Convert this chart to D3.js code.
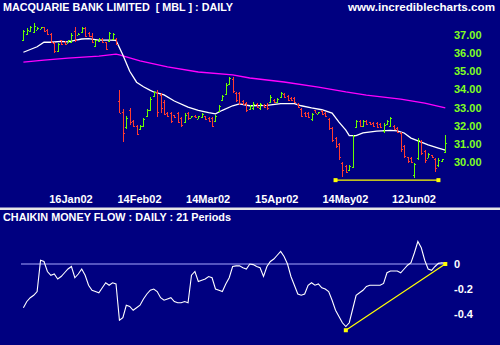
<!DOCTYPE html>
<html>
<head>
<meta charset="utf-8">
<script src="https://cdn.jsdelivr.net/npm/d3@7"></script>
<style>
  html, body { margin: 0; padding: 0; background: #000080; }
  svg { display: block; }
  text { font-family: "Liberation Sans", Arial, sans-serif; font-weight: bold; white-space: pre; }
</style>
</head>
<body>
<div id="chart"></div>
<script>
// ASX trading days, Dec 2001 - Jun 2002
var firstDay = "2001-12-24";
var barCount = 124;
var holidays = ["2001-12-25", "2001-12-26", "2002-01-01", "2002-01-28",
                "2002-03-29", "2002-04-01", "2002-04-25", "2002-06-10"];
var dateTicks = ["2002-01-16", "2002-02-14", "2002-03-14", "2002-04-15", "2002-05-14", "2002-06-12"];
var priceTicks = [30, 31, 32, 33, 34, 35, 36, 37];
var cmfTicks = [0, -0.2, -0.4];

// daily bars
var opens = [36.70,37.05,37.20,37.15,37.30,37.35,37.42,37.25,37.05,36.55,36.10,36.70,36.60,36.58,36.60,37.20,37.02,37.15,37.40,37.10,
  36.95,36.40,36.65,36.80,36.60,36.65,36.80,36.80,33.36,32.76,31.93,32.87,32.26,31.98,31.82,31.98,32.54,32.87,33.64,33.86,
  33.69,33.31,32.70,32.70,32.59,32.70,32.43,32.21,32.70,32.43,32.54,32.37,32.48,32.54,32.43,32.43,32.26,32.81,33.42,33.75,
  34.30,34.58,33.80,33.80,33.36,33.25,32.92,32.98,33.20,32.98,33.14,33.14,33.31,33.42,33.31,33.58,33.75,33.64,33.53,33.53,
  33.20,32.92,32.70,32.70,32.37,32.87,32.65,32.81,32.70,32.37,31.87,31.32,30.99,29.94,29.78,29.56,29.72,31.93,32.26,31.98,
  32.26,32.21,32.15,32.15,32.09,31.71,32.09,31.98,31.98,31.87,31.60,30.88,30.28,30.22,29.28,30.22,31.16,30.61,30.22,30.39,
  30.17,29.83,30.06,30.55];
var highs = [37.28,37.39,37.50,37.66,37.44,37.44,37.44,37.33,37.11,36.62,36.56,36.73,36.67,36.73,37.11,37.44,37.11,37.44,37.44,37.17,
  37.11,36.73,36.84,36.84,36.62,37.17,37.11,36.84,33.97,32.92,32.54,32.98,32.32,32.04,32.04,32.43,32.92,33.58,33.91,33.97,
  33.80,33.42,32.76,32.76,32.59,32.76,32.48,32.70,32.76,32.54,32.59,32.54,32.70,32.54,32.48,32.48,32.59,33.14,33.69,34.36,
  34.69,34.69,33.86,33.86,33.42,33.31,33.14,33.31,33.25,33.25,33.20,33.25,33.69,33.47,33.53,33.86,33.80,33.69,33.58,33.58,
  33.25,32.98,32.76,32.76,32.70,32.87,32.76,32.87,32.76,32.43,31.93,31.38,31.05,30.00,29.83,29.83,31.49,32.32,32.32,32.32,
  32.32,32.21,32.21,32.21,32.15,32.15,32.32,32.48,32.04,31.93,31.65,30.94,30.28,30.28,29.94,31.32,31.21,30.66,30.50,30.39,
  30.22,30.22,30.17,31.49];
var lows = [36.67,37.00,37.17,37.11,37.28,37.33,37.17,37.00,36.56,36.01,36.06,36.45,36.45,36.56,36.56,36.62,37.00,37.11,36.89,36.89,
  36.56,36.34,36.62,36.56,36.17,36.62,36.73,36.45,32.70,31.10,31.82,32.04,31.93,31.49,31.76,31.93,32.48,32.81,33.58,32.48,
  32.70,32.59,32.48,32.15,32.43,32.15,31.93,32.15,32.32,32.43,32.43,32.37,32.43,32.32,32.21,31.93,32.21,32.76,33.36,33.69,
  34.24,33.80,33.31,33.14,33.14,32.76,32.87,32.87,32.98,32.87,32.98,32.87,33.25,33.25,33.25,33.53,33.53,33.36,33.36,33.25,
  32.98,32.48,32.48,32.43,32.26,32.70,32.65,32.59,32.48,31.76,31.10,30.77,30.11,29.17,29.39,29.50,29.67,31.87,31.93,31.93,
  32.04,32.04,31.93,31.87,31.87,31.60,32.04,31.93,31.76,31.60,30.55,30.22,29.94,29.94,29.12,30.11,30.39,29.94,30.22,30.22,
  29.45,29.72,30.00,30.50];
var closes = [37.20,37.30,37.45,37.50,37.40,37.42,37.20,37.05,36.60,36.10,36.50,36.50,36.48,36.70,37.00,36.70,37.08,37.40,36.95,36.92,
  36.60,36.70,36.80,36.60,36.25,37.10,37.05,36.50,32.70,31.60,32.43,32.21,31.98,31.54,31.98,32.37,32.87,33.47,33.86,32.76,
  32.98,32.65,32.54,32.26,32.48,32.21,32.04,32.59,32.43,32.54,32.48,32.54,32.65,32.37,32.26,31.98,32.54,33.09,33.64,34.24,
  34.63,33.91,33.42,33.25,33.20,32.87,33.09,33.20,33.03,33.20,33.03,32.98,33.58,33.31,33.47,33.80,33.58,33.42,33.42,33.31,
  33.03,32.54,32.54,32.48,32.65,32.70,32.76,32.65,32.54,31.87,31.21,30.88,30.28,29.56,29.45,29.78,31.43,32.26,31.98,32.26,
  32.09,32.09,31.98,31.93,31.93,32.04,32.26,32.43,31.82,31.65,30.72,30.33,30.06,30.00,29.89,31.21,30.50,30.11,30.44,30.28,
  29.67,30.11,30.17,31.05];

// moving averages, [bar index, value]
var maShort = [[0,36.05],[2,36.2],[4,36.35],[6,36.6],[8,36.6],[11,36.65],[13,36.62],[15,36.7],[17,36.78],[19,36.8],
  [22,36.72],[25,36.72],[27,36.7],[29,35.9],[31,35.0],[33,34.4],[35,34.15],[37,33.95],[38,33.86],[41,33.7],[44,33.36],
  [48,33.03],[51,32.85],[54,32.72],[56,32.65],[58,32.85],[61,33.1],[63,33.2],[66,33.1],[71,33.12],[75,33.22],[79,33.22],
  [81,33.1],[84,32.98],[87,32.88],[90,32.7],[92,32.2],[94,31.76],[95,31.45],[97,31.45],[99,31.6],[103,31.7],[107,31.74],
  [109,31.72],[111,31.6],[113,31.32],[116,31.1],[118,30.94],[121,30.77],[123,30.66]];
var maLong = [[0,35.51],[6,35.62],[13,35.73],[22,35.84],[27,35.95],[28,35.9],[34,35.57],[42,35.24],[51,34.96],[61,34.8],
  [66,34.63],[76,34.41],[86,34.13],[94,33.86],[100,33.69],[110,33.47],[117,33.25],[123,32.98]];
var supportLine = [[91, 29.0], [121, 29.0]];

// Chaikin money flow, 21 periods
var cmf = [-0.35,-0.30,-0.27,-0.25,-0.22,0.03,0.02,-0.06,-0.09,-0.08,-0.12,-0.10,-0.07,-0.04,-0.02,-0.11,-0.08,-0.04,-0.09,-0.17,
  -0.21,-0.22,-0.23,-0.19,-0.15,-0.17,-0.15,-0.16,-0.45,-0.43,-0.33,-0.34,-0.37,-0.35,-0.33,-0.28,-0.24,-0.21,-0.20,-0.22,
  -0.27,-0.29,-0.28,-0.27,-0.30,-0.31,-0.31,-0.30,-0.31,-0.09,-0.06,-0.14,-0.13,-0.12,-0.10,-0.11,-0.20,-0.21,-0.22,-0.16,
  -0.11,-0.02,-0.015,-0.015,-0.03,-0.04,0.00,-0.005,-0.02,-0.03,-0.10,-0.02,0.02,0.04,0.07,0.10,0.06,0.00,-0.10,-0.17,
  -0.24,-0.25,-0.24,-0.17,-0.15,-0.17,-0.16,-0.19,-0.20,-0.22,-0.29,-0.37,-0.42,-0.47,-0.50,-0.47,-0.36,-0.25,-0.23,-0.21,
  -0.18,-0.17,-0.17,-0.17,-0.17,-0.155,-0.07,-0.056,-0.056,-0.056,-0.07,-0.04,-0.01,0.01,0.09,0.18,0.13,0.03,-0.04,-0.05,
  -0.02,0.005,0.01,0.005];
var cmfTrend = [[94, -0.53], [123, 0.0]];

var width = 500, height = 345;
var green = "#66ff00", red = "#ff3b30";

var keyFmt = d3.timeFormat("%Y-%m-%d");
var keyParse = d3.timeParse("%Y-%m-%d");
var dates = d3.timeDay.range(keyParse(firstDay), keyParse("2002-07-31"))
    .filter(d => d.getDay() % 6 !== 0 && holidays.indexOf(keyFmt(d)) < 0)
    .slice(0, barCount)
    .map(keyFmt);

var bars = dates.map((d, i) => ({ date: d, o: opens[i], h: highs[i], l: lows[i], c: closes[i] }));

var svg = d3.select("#chart").append("svg")
    .attr("width", width)
    .attr("height", height);

svg.append("rect").attr("width", width).attr("height", height).attr("fill", "#000080");

var x = d3.scalePoint().domain(dates).range([23.4, 445.3]);
var y = d3.scaleLinear().domain([30, 37]).range([162, 35]);
var yc = d3.scaleLinear().domain([-0.4, 0]).range([314, 264]);

// titles
svg.append("text").attr("x", 3).attr("y", 11).attr("fill", "#fff").attr("font-size", 11)
    .attr("textLength", 230).attr("lengthAdjust", "spacingAndGlyphs")
    .text("MACQUARIE BANK LIMITED  [ MBL ] : DAILY");
svg.append("text").attr("x", 348).attr("y", 11).attr("fill", "#fff").attr("font-size", 11)
    .attr("textLength", 147).attr("lengthAdjust", "spacingAndGlyphs")
    .text("www.incrediblecharts.com");
svg.append("text").attr("x", 3).attr("y", 221).attr("fill", "#fff").attr("font-size", 11)
    .attr("textLength", 228).attr("lengthAdjust", "spacingAndGlyphs")
    .text("CHAIKIN MONEY FLOW : DAILY : 21 Periods");

// panel divider
svg.append("rect").attr("x", 0).attr("y", 207.5).attr("width", width).attr("height", 2.5).attr("fill", "#e6e6e6");

// moving averages
var maLine = d3.line().x(p => x(dates[p[0]])).y(p => y(p[1]));
svg.append("path").attr("d", maLine(maLong)).attr("fill", "none").attr("stroke", "#ff00ff").attr("stroke-width", 1.3);
svg.append("path").attr("d", maLine(maShort)).attr("fill", "none").attr("stroke", "#ffffff").attr("stroke-width", 1.3);

// OHLC bars
var barG = svg.append("g").attr("shape-rendering", "crispEdges");
var bar = barG.selectAll(".bar")
    .data(bars)
    .enter().append("g")
    .attr("class", "bar")
    .attr("fill", d => d.c >= d.o ? green : red);
bar.append("rect")
    .attr("x", d => Math.round(x(d.date)))
    .attr("y", d => Math.round(y(d.h)))
    .attr("width", 1)
    .attr("height", d => Math.max(1, Math.round(y(d.l)) - Math.round(y(d.h))));
bar.append("rect")
    .attr("x", d => Math.round(x(d.date)) - 1)
    .attr("y", d => Math.round(y(d.o)))
    .attr("width", 1).attr("height", 1);
bar.append("rect")
    .attr("x", d => Math.round(x(d.date)) + 1)
    .attr("y", d => Math.round(y(d.c)))
    .attr("width", 1).attr("height", 1);

// support line with end markers
function drawTrend(pts, ys) {
    svg.append("line")
        .attr("x1", x(dates[pts[0][0]])).attr("y1", ys(pts[0][1]))
        .attr("x2", x(dates[pts[1][0]])).attr("y2", ys(pts[1][1]))
        .attr("stroke", "#ffff00").attr("stroke-width", 1.2);
    svg.selectAll(null).data(pts).enter().append("rect")
        .attr("x", p => x(dates[p[0]]) - 2).attr("y", p => ys(p[1]) - 2)
        .attr("width", 4).attr("height", 4).attr("fill", "#ffff00");
}
drawTrend(supportLine, y);

// price axis
var priceAxis = svg.append("g").attr("transform", "translate(454,0)")
    .call(d3.axisRight(y).tickValues(priceTicks).tickSize(0).tickPadding(0).tickFormat(d3.format(".2f")));
priceAxis.select(".domain").remove();
priceAxis.selectAll("text").attr("fill", "#80ff20").attr("font-size", 11).attr("font-family", null);

// date axis
var dateAxis = svg.append("g").attr("transform", "translate(-1,195)")
    .call(d3.axisBottom(x).tickValues(dateTicks).tickSize(0).tickPadding(0)
        .tickFormat(d => d3.timeFormat("%d%b%y")(keyParse(d))));
dateAxis.select(".domain").remove();
dateAxis.selectAll("text").attr("fill", "#fff").attr("font-size", 11).attr("font-family", null);

// CMF panel
svg.append("line").attr("x1", 21).attr("x2", 447).attr("y1", yc(0)).attr("y2", yc(0))
    .attr("stroke", "#a8a8ff").attr("stroke-width", 1);
var cmfLine = d3.line().x((v, i) => x(dates[i])).y(v => yc(v));
svg.append("path").attr("d", cmfLine(cmf)).attr("fill", "none").attr("stroke", "#fff").attr("stroke-width", 1.1);
drawTrend(cmfTrend, yc);

var cmfAxis = svg.append("g").attr("transform", "translate(454,0)")
    .call(d3.axisRight(yc).tickValues(cmfTicks).tickSize(0).tickPadding(0)
        .tickFormat(d => d === 0 ? "0" : String(d)));
cmfAxis.select(".domain").remove();
cmfAxis.selectAll("text").attr("fill", "#fff").attr("font-size", 11).attr("font-family", null);
</script>
</body>
</html>
